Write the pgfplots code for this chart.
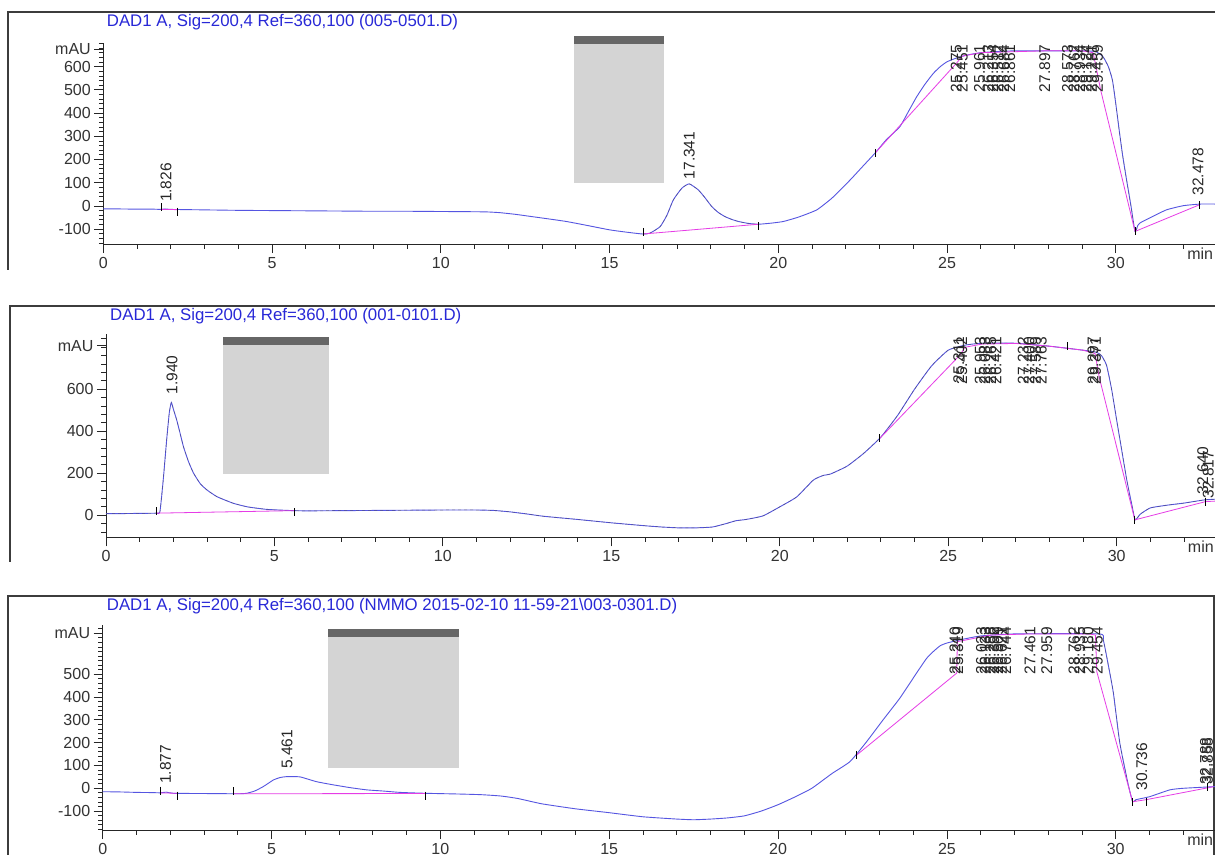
\documentclass[border=0pt]{standalone}
\usepackage{fontspec}
\setmainfont{Liberation Sans}
\usepackage{pgfplots}
\usepackage{pgfplotstable}
\pgfplotsset{compat=1.18}
\definecolor{trace}{RGB}{85,85,225}
\definecolor{base}{RGB}{230,60,230}
\definecolor{ttl}{RGB}{40,40,215}
\definecolor{frm}{RGB}{60,60,60}
\definecolor{redact}{RGB}{212,212,212}

\pgfplotstableread{
t v
0 -13
0.5 -13
1.0 -14
1.5 -14
1.7 -15
1.83 -13
2.0 -15
2.5 -16
3 -17
4 -19
5 -20
6 -21
7 -22
8 -23
9 -23
10 -24
11 -25
11.4 -26
11.75 -29
12.2 -36
12.7 -46
13.2 -56
13.72 -67
14.3 -83
15.0 -103
15.5 -113
15.99 -121
16.2 -117
16.5 -89
16.7 -40
16.89 26
17.14 76
17.36 95
17.63 69
17.83 35
18.03 -3
18.22 -28
18.42 -46
18.62 -58
18.82 -67
19.1 -75
19.4 -79
19.8 -74
20.15 -67
20.6 -48
21.14 -17
21.6 35
22.13 112
22.5 170
22.87 228
23.2 285
23.6 341
23.85 405
24.1 470
24.35 525
24.6 572
24.8 600
25.0 621
25.3 638
25.6 650
26.0 660
26.5 665
27.0 668
28.0 668
29.0 668
29.4 665
29.62 643
29.78 600
29.9 542
30.0 440
30.1 327
30.2 220
30.32 112
30.45 0
30.57 -110
30.65 -85
30.72 -73
31.0 -52
31.5 -17
32.0 1
32.5 8
33.0 8
}\tA

\pgfplotstableread{
t v
0 8
0.5 8
1.0 9
1.5 10
1.6 16
1.7 170
1.8 358
1.88 490
1.94 537
2.0 505
2.1 453
2.2 390
2.3 326
2.45 255
2.6 200
2.8 150
3.0 120
3.3 88
3.78 57
4.2 40
4.77 28
5.56 22
6 21
7 22
8 23
9 24
10 25
11 25
11.5 23
12 16
12.5 6
13 -5
14 -20
15 -36
16 -50
16.5 -56
17 -60
17.5 -60
18 -56
18.4 -40
18.7 -26
19.0 -20
19.5 -3
20 40
20.5 87
21 168
21.3 190
21.5 196
22 234
22.5 296
23 372
23.5 476
24 600
24.5 710
25 786
25.5 810
26 819
27 819
28 805
29 786
29.4 776
29.55 760
29.7 714
29.85 600
30 453
30.15 310
30.3 168
30.45 50
30.55 -22
30.7 5
31 35
31.5 48
32 58
32.6 73
33 77
}\tB

\pgfplotstableread{
t v
0 -15
0.5 -16
1 -18
1.5 -19
1.7 -20
1.88 -17
2.1 -22
3 -23
4 -24
4.26 -22
4.5 -12
4.75 7
5.05 36
5.25 47
5.44 51
5.84 50
6.33 29
6.83 15
7.32 3
7.82 -7
8.3 -12
8.8 -18
9.57 -22
10.5 -25
11.2 -28
11.8 -34
12.3 -45
13 -68
14 -90
15 -107
16 -125
17 -135
17.5 -138
18 -135
18.5 -130
19 -121
19.5 -100
20 -72
20.5 -38
21 0
21.6 65
22.13 117
22.6 200
23.11 300
23.61 396
24.1 505
24.4 570
24.6 600
24.8 625
25.0 637
25.39 651
26.0 668
27.0 677
29.5 677
29.63 651
29.78 540
29.93 418
30.12 199
30.36 23
30.5 -59
30.6 -50
31.0 -37
31.6 -7
32.0 0
32.9 7
33 7
}\tC

\tikzset{
  lab/.style={rotate=90, font=\fontsize{15.5}{16}\selectfont, inner sep=1pt, text=black!85},
}
\pgfplotsset{
  chrom/.style={
    scale only axis,
    anchor=south west,
    axis x line=bottom, axis y line=left,
    axis line style={black!85, line width=0.9pt, -},
    xmin=0,
    clip=false,
    tick align=outside,
    major tick length=9pt, minor tick length=4.5pt,
    every tick/.style={black!85, line width=0.8pt},
    xtick={0,5,...,30}, minor xtick={1,...,32},
    ticklabel style={font=\fontsize{16}{18}\selectfont, text=black!80},
    xticklabel style={text height=11.5pt},
    /pgf/number format/assume math mode=true,
    extra x ticks={32.5}, extra x tick labels={min},
    extra x tick style={major tick length=0pt},
  },
  tr/.style={trace, line width=0.9pt, smooth, tension=0.3},
  bl/.style={base, line width=0.8pt},
  tk/.style={only marks, mark=|, mark size=4pt, black, mark options={line width=0.8pt}},
  ov/.style={black!70, line width=0.5pt, dash pattern=on 3pt off 3pt, opacity=0.55, smooth, tension=0.3},
}

\begin{document}
\begin{tikzpicture}
\useasboundingbox (0pt,0pt) rectangle (1215pt,-854pt);
\clip (0pt,0pt) rectangle (1215pt,-854pt);
\fill[white] (0pt,0pt) rectangle (1215pt,-854pt);

% ---------- panel 1 ----------
\draw[frm, line width=1.4pt] (1216pt,-12pt) -- (8pt,-12pt) -- (8pt,-270pt);
\node[anchor=base west, text=ttl, font=\fontsize{16.8}{18}\selectfont, inner sep=0pt] at (106.7pt,-26.5pt) {DAD1 A, Sig=200,4 Ref=360,100 (005-0501.D)};
\begin{axis}[chrom, at={(103.3pt,-244pt)}, width=1111.7pt, height=201.3pt,
  xmax=32.94, ymin=-164, ymax=703,
  ytick={-100,0,...,600}, minor ytick={-160,-140,...,700},
  extra y ticks={676}, extra y tick labels={mAU}]
\addplot[tr] table[x=t,y=v] {\tA};
\addplot[ov, restrict x to domain=15.9:19.5] table[x=t,y=v] {\tA};
\addplot[ov, restrict x to domain=29.5:30.7] table[x=t,y=v] {\tA};
\addplot[bl] coordinates {(1.70,-15) (2.2,-16)};
\addplot[bl] coordinates {(15.99,-121) (19.4,-79)};
\addplot[bl] coordinates {(22.87,228) (25.28,615) (25.45,645) (26.0,660) (27.9,668) (29.0,668) (29.33,660)};
\addplot[bl] coordinates {(29.33,660) (29.55,500) (30.57,-110) (32.48,5)};
\addplot[tk] coordinates {(1.72,-6) (2.2,-25) (15.99,-112) (19.4,-88) (22.87,228) (30.57,-110) (32.48,5)};
\node[lab, anchor=west] at (axis cs:1.86,12) {1.826};
\node[lab, anchor=west] at (axis cs:17.36,110) {17.341};
\node[lab, anchor=west] at (axis cs:32.44,40) {32.478};
\pgfplotsinvokeforeach{25.275, 25.451, 25.961, 26.213, 26.354, 26.512, 26.684, 26.861, 27.897, 28.573, 28.762, 28.934, 29.124, 29.281, 29.459}{
  \node[lab, anchor=east] at (axis cs:#1,700) {#1};
}
\end{axis}
\fill[redact] (574pt,-44pt) rectangle (664pt,-182.7pt);
\fill[black!60] (574pt,-36pt) rectangle (664pt,-44pt);

% ---------- panel 2 ----------
\draw[frm, line width=1.4pt] (1216pt,-306pt) -- (10pt,-306pt) -- (10pt,-562pt);
\node[anchor=base west, text=ttl, font=\fontsize{16.8}{18}\selectfont, inner sep=0pt] at (110pt,-320.7pt) {DAD1 A, Sig=200,4 Ref=360,100 (001-0101.D)};
\begin{axis}[chrom, at={(106pt,-537.3pt)}, width=1109pt, height=203.3pt,
  xmax=32.92, ymin=-105, ymax=863,
  ytick={0,200,...,600}, minor ytick={-80,-40,...,840},
  extra y ticks={807}, extra y tick labels={mAU}]
\addplot[tr] table[x=t,y=v] {\tB};
\addplot[ov] table[x=t,y=v] {\tB};
\addplot[bl] coordinates {(1.5,10) (5.6,22)};
\addplot[bl] coordinates {(22.97,366) (25.35,763) (25.5,800) (26,815) (27,818) (28,805) (29,786) (29.36,770)};
\addplot[bl] coordinates {(29.36,770) (29.48,659) (30.54,-22) (32.64,65) (33,68)};
\addplot[tk] coordinates {(1.5,18) (5.6,14) (22.97,366) (28.55,805) (30.54,-22) (32.64,65)};
\node[lab, anchor=west] at (axis cs:1.96,570) {1.940};
\node[lab, anchor=west] at (axis cs:32.56,95) {32.640};
\node[lab, anchor=west] at (axis cs:32.72,75) {32.817};
\pgfplotsinvokeforeach{25.311, 25.402, 25.953, 26.083, 26.265, 26.421, 27.232, 27.400, 27.589, 27.763, 29.297, 29.371}{
  \node[lab, anchor=east] at (axis cs:#1,855) {#1};
}
\end{axis}
\fill[redact] (223.3pt,-345pt) rectangle (329pt,-474.3pt);
\fill[black!60] (223.3pt,-337.3pt) rectangle (329pt,-345pt);

% ---------- panel 3 ----------
\draw[frm, line width=1.4pt] (8pt,-856pt) -- (8pt,-596pt) -- (1214pt,-596pt) -- (1214pt,-856pt);
\node[anchor=base west, text=ttl, font=\fontsize{16.8}{18}\selectfont, inner sep=0pt] at (106.7pt,-610.7pt) {DAD1 A, Sig=200,4 Ref=360,100 (NMMO 2015-02-10 11-59-21\textbackslash 003-0301.D)};
\begin{axis}[chrom, at={(102.7pt,-830pt)}, width=1112.3pt, height=205pt,
  xmax=32.94, ymin=-183, ymax=716,
  ytick={-100,0,...,500}, minor ytick={-180,-160,...,700},
  extra y ticks={680}, extra y tick labels={mAU}]
\addplot[tr] table[x=t,y=v] {\tC};
\addplot[ov, restrict x to domain=29.5:30.6] table[x=t,y=v] {\tC};
\addplot[bl] coordinates {(1.7,-20) (2.2,-22)};
\addplot[bl] coordinates {(3.86,-24) (9.57,-23)};
\addplot[bl] coordinates {(22.33,146) (25.29,505) (25.31,643) (26.3,672) (27.5,677) (29.2,677) (29.4,672)};
\addplot[bl] coordinates {(29.4,672) (29.44,511) (30.5,-59) (30.9,-50) (32.9,7)};
\addplot[tk] coordinates {(1.7,-10) (2.2,-32) (3.86,-14) (9.57,-32) (22.33,146) (30.5,-59) (30.9,-62) (32.72,6)};
\node[lab, anchor=west] at (axis cs:1.86,14) {1.877};
\node[lab, anchor=west] at (axis cs:5.46,80) {5.461};
\node[lab, anchor=west] at (axis cs:30.77,-15) {30.736};
\node[lab, anchor=west] at (axis cs:32.66,10) {32.788};
\node[lab, anchor=west] at (axis cs:32.72,10) {32.858};
\pgfplotsinvokeforeach{25.240, 25.319, 26.023, 26.133, 26.288, 26.392, 26.509, 26.621, 26.744, 27.461, 27.959, 28.762, 28.935, 29.180, 29.454}{
  \node[lab, anchor=east] at (axis cs:#1,712) {#1};
}
\end{axis}
\fill[redact] (328.3pt,-637pt) rectangle (459pt,-767.7pt);
\fill[black!60] (328.3pt,-629pt) rectangle (459pt,-637pt);
\end{tikzpicture}
\end{document}
